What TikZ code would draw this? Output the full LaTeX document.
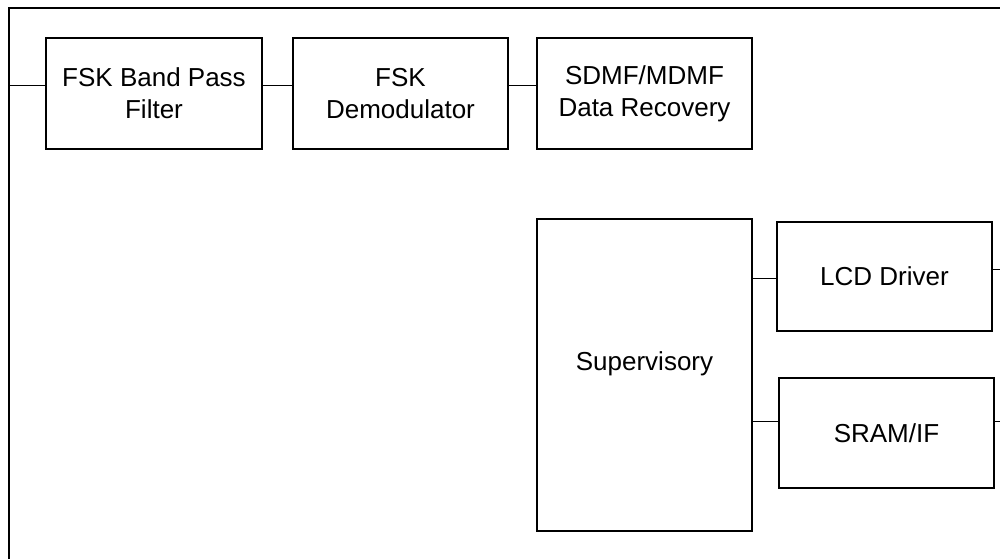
\documentclass[tikz,border=0pt]{standalone}
\usepackage{fontspec}
\setmainfont{Liberation Sans}
\begin{document}
\begin{tikzpicture}[x=1pt,y=-1pt,
  blk/.style={draw, line width=2.6pt, inner sep=0pt, minimum width=215pt, align=center,
    font=\fontsize{26}{32}\selectfont},
  lbl/.style={inner sep=0pt, align=center, font=\fontsize{26}{32}\selectfont},
  wire/.style={line width=1pt},
  frame/.style={line width=2.6pt}]
\useasboundingbox (0,0) rectangle (1000,559);
% outer frame
\draw[frame] (9,559) -- (9,8) -- (1000,8);
% blocks
\node[blk, minimum width=216pt, minimum height=111pt] (bpf) at (154,93.5) {FSK Band Pass\\Filter};
\node[blk, minimum height=111pt] (dem) at (400.5,93.5) {FSK\\Demodulator};
\node[blk, minimum height=111pt] (rec) at (644.5,93.5) {SDMF/MDMF\\Data Recovery};
\node[blk, minimum height=312pt] (sup) at (644.5,375) {};
\node[lbl] (suptxt) at (644.5,364) {Supervisory};
\node[blk, minimum height=109pt] (lcd) at (884.5,276.5) {LCD Driver};
\node[blk, minimum height=110pt] (sram) at (886.5,433) {SRAM/IF};
% connector coordinates
\coordinate (in) at (9,86);
\coordinate (s1) at (752,278);
\coordinate (s2) at (752,421);
\coordinate (o1) at (1000,269);
\coordinate (o2) at (1000,421);
% connectors
\draw[wire] (in) -- (in -| bpf.west);
\draw[wire] (bpf.east |- in) -- (dem.west |- in);
\draw[wire] (dem.east |- in) -- (rec.west |- in);
\draw[wire] (sup.east |- s1) -- (lcd.west |- s1);
\draw[wire] (sup.east |- s2) -- (sram.west |- s2);
\draw[wire] (lcd.east |- o1) -- (o1);
\draw[wire] (sram.east |- o2) -- (o2);
\end{tikzpicture}
\end{document}
